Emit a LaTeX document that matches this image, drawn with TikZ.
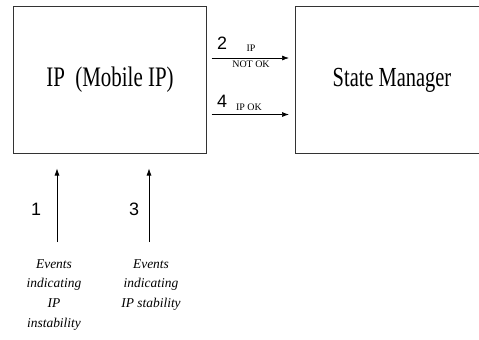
\documentclass[tikz,border=0pt]{standalone}
\usepackage{fontspec}
\setmainfont{Liberation Serif}
\newfontfamily\digitfont{Liberation Sans}
\usetikzlibrary{arrows.meta,positioning}
\newcommand{\tallText}[1]{\scalebox{1}[1.35]{#1}}

\begin{document}
\begin{tikzpicture}[x=1bp,y=-1bp,
  block/.style={draw=black!80, line width=1bp, inner sep=0pt},
  flow/.style={-{Latex[length=7bp,width=5bp]}, line width=0.7bp},
  num/.style={font=\digitfont\fontsize{18}{18}\selectfont, inner sep=0pt},
  tag/.style={font=\fontsize{10}{11}\selectfont, inner sep=0pt},
  event/.style={font=\itshape\fontsize{13.5}{20}\selectfont, align=center, inner sep=0pt}]
\useasboundingbox (0,0) rectangle (479,339);
% the two boxes
\node[block, minimum width=192bp, minimum height=147bp,
      font=\fontsize{21}{24}\selectfont] (ip) at (110,79.5) {\tallText{IP\ \ (Mobile IP)}};
\node[block, minimum width=190bp, minimum height=147bp, anchor=north west] (sm) at (295,6) {};
\node[font=\fontsize{20.5}{24}\selectfont] (smtext) at (392,80) {\tallText{State Manager}};
% messages to the state manager
\draw[flow, shorten <=5bp, shorten >=6bp] ([yshift=21.5bp]ip.east) -- ([yshift=21.5bp]ip.east -| sm.west);
\draw[flow, shorten <=5bp, shorten >=6bp] ([yshift=-35bp]ip.east) -- ([yshift=-35bp]ip.east -| sm.west);
\node[num] (n2) at (222,43) {2};
\node[tag] (t2a) at (251,48) {IP};
\node[tag] (t2b) at (251,64.5) {NOT OK};
\node[num] (n4) at (222,101) {4};
\node[tag] (t4) at (249,107.5) {IP OK};
% events coming into IP
\coordinate (e1) at (57,242);
\coordinate (e3) at (149,242);
\draw[flow, shorten >=15bp] (e1) -- (e1 |- ip.south);
\draw[flow, shorten >=15bp] (e3) -- (e3 |- ip.south);
\node[num] (n1) at (36,209) {1};
\node[num] (n3) at (134,209) {3};
\node[event, anchor=north] (ev1) at (54,259) {Events\\indicating\\IP\\instability};
\node[event, anchor=north] (ev3) at (151,259) {Events\\indicating\\IP stability};
\end{tikzpicture}
\end{document}
